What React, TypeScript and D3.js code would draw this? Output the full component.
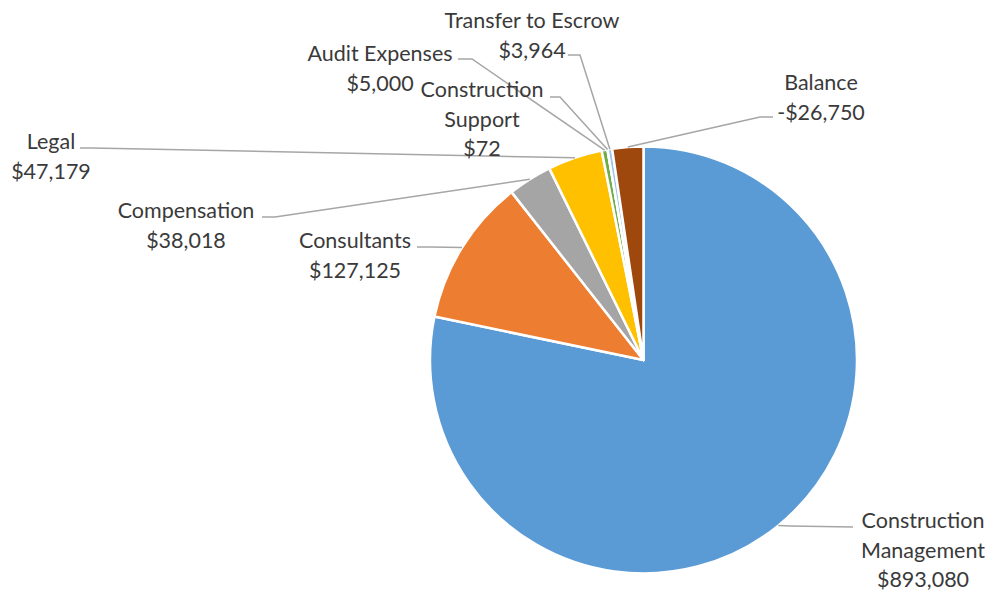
import React from "react";
import * as d3 from "d3";

const categories = [
  "Construction Management",
  "Consultants",
  "Compensation",
  "Legal",
  "Audit Expenses",
  "Construction Support",
  "Transfer to Escrow",
  "Balance",
];
const values = [893080, 127125, 38018, 47179, 5000, 72, 3964, -26750];
const colors = ["#5B9BD5", "#ED7D31", "#A5A5A5", "#FFC000", "#70AD47", "#4472C4", "#9DC3E6", "#9E480E"];
const labelLines = [
  ["Construction", "Management"],
  ["Consultants"],
  ["Compensation"],
  ["Legal"],
  ["Audit Expenses"],
  ["Construction", "Support"],
  ["Transfer to Escrow"],
  ["Balance"],
];

// label layout: center x, first line center y, leader start and elbow
const labelLayout = [
  { x: 923, y: 520, start: [853, 527], elbow: [790, 526] },
  { x: 355, y: 240, start: [417, 247], elbow: [430, 247] },
  { x: 186, y: 210, start: [262, 217], elbow: [275, 217] },
  { x: 51, y: 141, start: [80, 148], elbow: [92, 148] },
  { x: 380, y: 53, start: [458, 59], elbow: [472, 59] },
  { x: 482, y: 89, start: [550, 97], elbow: [560, 97] },
  { x: 532, y: 20, start: [568, 55], elbow: [580, 55] },
  { x: 821, y: 82, start: [773, 117], elbow: [760, 117] },
];

const W = 993;
const H = 593;
const cx = 643.5;
const cy = 360;
const R = 213.5;
const lineGap = 29.5;

const fmt = (v: number) => (v < 0 ? "-$" : "$") + d3.format(",")(Math.abs(v));

export default function App() {
  const data = categories.map((c, i) => ({ c, v: values[i], i }));
  const pie = d3
    .pie<any>()
    .sort(null)
    .value((d) => Math.abs(d.v));
  const arcs = pie(data);
  const arc = d3.arc<any>().innerRadius(0).outerRadius(R);
  const edge = d3.arc<any>().innerRadius(R).outerRadius(R);

  return (
    <svg
      width={W}
      height={H}
      style={{ position: "absolute", left: 0, top: 0, background: "#fff" }}
      fontFamily="Lato, 'Open Sans', sans-serif"
    >
      <rect width={W} height={H} fill="#fff" />
      <g transform={`translate(${cx},${cy})`}>
        {arcs.map((a, i) => (
          <path key={i} d={arc(a) || ""} fill={colors[i]} stroke="#fff" strokeWidth={2.5} strokeLinejoin="round" />
        ))}
      </g>
      {arcs.map((a, i) => {
        const L = labelLayout[i];
        const [px, py] = edge.centroid(a);
        const pts: [number, number][] = [
          [L.start[0], L.start[1]],
          [L.elbow[0], L.elbow[1]],
          [px + cx, py + cy],
        ];
        return (
          <path key={"l" + i} d={d3.line()(pts) || ""} fill="none" stroke="#A6A6A6" strokeWidth={1.5} />
        );
      })}
      {labelLayout.map((L, i) => {
        const lines = [...labelLines[i], fmt(values[i])];
        return (
          <text key={"t" + i} fontSize={21.5} fill="#3a3a3a" textAnchor="middle">
            {lines.map((s, k) => (
              <tspan key={k} x={L.x} y={L.y + k * lineGap} dominantBaseline="central">
                {s}
              </tspan>
            ))}
          </text>
        );
      })}
    </svg>
  );
}
